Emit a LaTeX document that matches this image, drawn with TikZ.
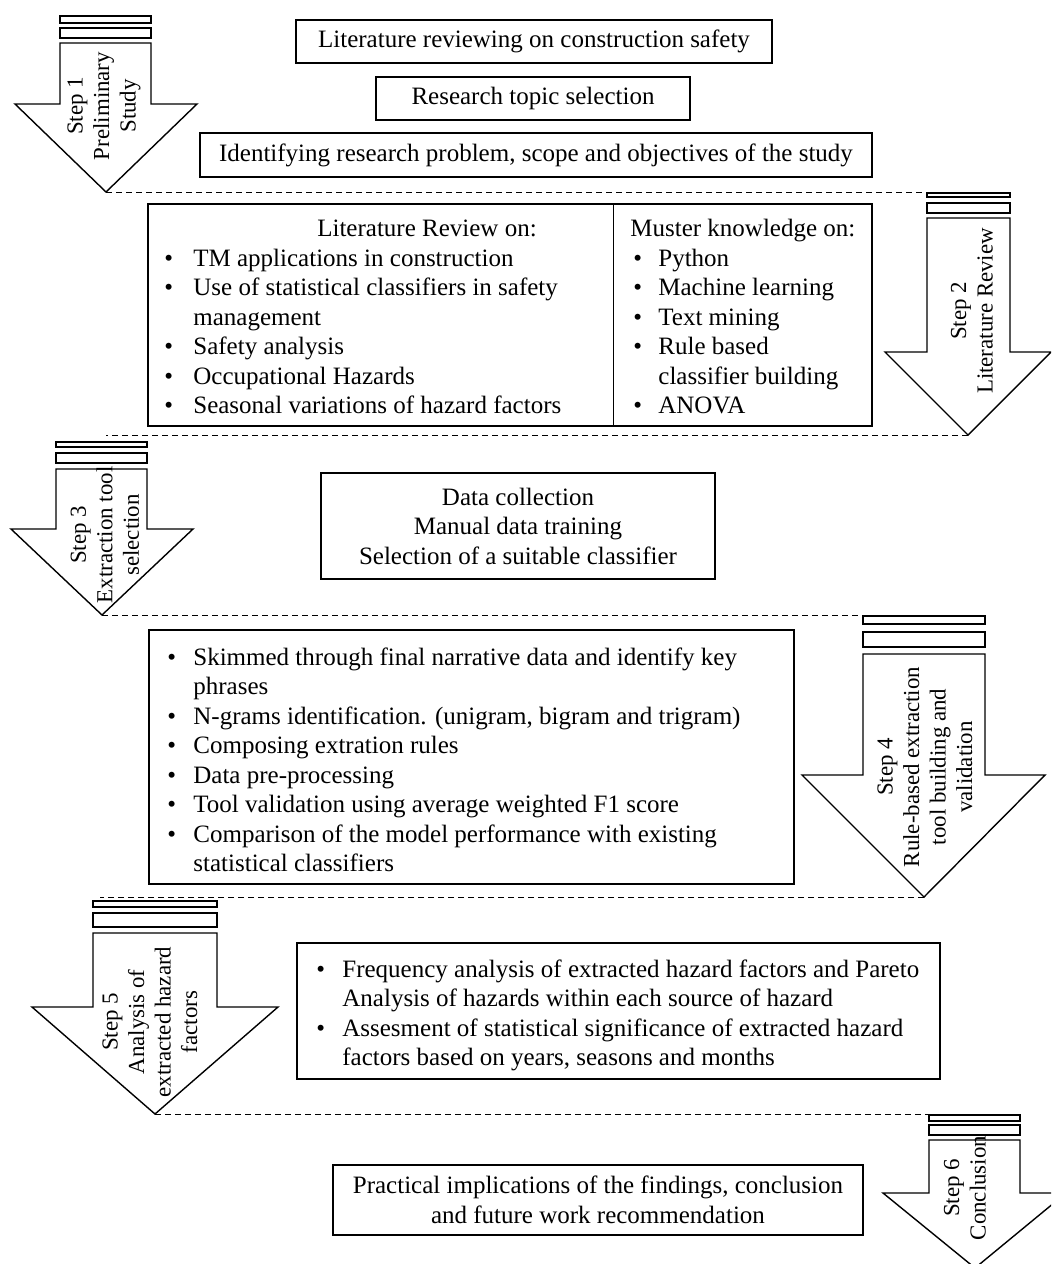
\documentclass[tikz,border=0pt]{standalone}
\usepackage{fontspec}
\setmainfont{Liberation Serif}

\tikzset{
  boxtext/.style={inner sep=0pt, font=\fontsize{12.5}{14.75}\selectfont},
  textbox/.style={boxtext, draw, line width=0.75pt, align=center},
  stepbar/.style={draw, line width=0.7pt, fill=white},
  stepshape/.style={draw, line width=0.7pt, fill=white},
  steplabel/.style={rotate=90, align=center, inner sep=0pt,
    font=\fontsize{11.45}{13.25}\selectfont},
  stepline/.style={line width=0.5pt, dash pattern=on 3pt off 2pt}
}

\begin{document}
\begin{tikzpicture}[x=0.5pt, y=-0.5pt]
  \useasboundingbox (0,0) rectangle (1051,1264);
  \clip (0,0) rectangle (1051,1264);

  % Step 1 arrow
  \draw[stepbar] (60,16) rectangle (151,23);
  \draw[stepbar] (60,28) rectangle (151,38);
  \draw[stepshape] (60,43) -- (151,43) -- (151,104) -- (197,104)
    -- (106,192) coordinate (tip1) -- (15,104) -- (60,104) -- cycle;
  \node[steplabel] (step1) at (104,106) {Step 1\\Preliminary\\Study};

  % Step 1 boxes
  \node[textbox, minimum width=238pt, minimum height=21.5pt] (litreview) at (534,41.5)
    {Literature reviewing on construction safety};
  \node[textbox, minimum width=157pt, minimum height=21.5pt] (topic) at (533,98.5)
    {Research topic selection};
  \node[textbox, minimum width=336pt, minimum height=22pt] (problem) at (536,155)
    {Identifying research problem, scope and objectives of the study};

  % Step 2 arrow
  \draw[stepbar] (927,193) rectangle (1010,197);
  \draw[stepbar] (927,203) rectangle (1010,213);
  \draw[stepshape] (927,218) -- (1010,218) -- (1010,352) -- (1051,352)
    -- (968,435) coordinate (tip2) -- (885,352) -- (927,352) -- cycle;
  \node[steplabel] (step2) at (972,311) {Step 2\\Literature Review};

  % Step 2 box
  \node[textbox, minimum width=362pt, minimum height=111pt] (review) at (510,315) {};
  \draw[line width=0.75pt] (review.north west) ++(466,0) -- ++(0,222);
  \node[boxtext, anchor=base] (reviewhead) at (427,236) {Literature Review on:};
  \node[boxtext, anchor=base west] (reviewlist) at (164,266) {%
    \begin{tabular}[t]{@{}p{14.5pt}@{}l@{}}
      \textbullet & TM applications in construction\\
      \textbullet & Use of statistical classifiers in safety\\
                  & management\\
      \textbullet & Safety analysis\\
      \textbullet & Occupational Hazards\\
      \textbullet & Seasonal variations of hazard factors
    \end{tabular}};
  \node[boxtext, anchor=base west] (musterhead) at (630,236) {Muster knowledge on:};
  \node[boxtext, anchor=base west] (musterlist) at (633,266) {%
    \begin{tabular}[t]{@{}p{12.5pt}@{}l@{}}
      \textbullet & Python\\
      \textbullet & Machine learning\\
      \textbullet & Text mining\\
      \textbullet & Rule based\\
                  & classifier building\\
      \textbullet & ANOVA
    \end{tabular}};

  % Step 3 arrow
  \draw[stepbar] (56,442) rectangle (147,447);
  \draw[stepbar] (56,453) rectangle (147,463);
  \draw[stepshape] (56,469) -- (147,469) -- (147,529) -- (193,529)
    -- (102,615) coordinate (tip3) -- (11,529) -- (56,529) -- cycle;
  \node[steplabel] (step3) at (105,535) {Step 3\\Extraction tool\\selection};

  % Step 3 box
  \node[textbox, minimum width=197pt, minimum height=53pt] (datacoll) at (518,526)
    {Data collection\\Manual data training\\Selection of a suitable classifier};

  % Step 4 arrow
  \draw[stepbar] (863,616) rectangle (985,624);
  \draw[stepbar] (863,632) rectangle (985,647);
  \draw[stepshape] (863,654) -- (985,654) -- (985,775) -- (1045,775)
    -- (924,897) coordinate (tip4) -- (802,775) -- (863,775) -- cycle;
  \node[steplabel] (step4) at (925,767)
    {Step 4\\Rule-based extraction\\tool building and\\validation};

  % Step 4 box
  \node[textbox, minimum width=322.5pt, minimum height=127pt] (rules) at (471.5,757) {};
  \node[boxtext, anchor=base west] (ruleslist) at (167,665) {%
    \begin{tabular}[t]{@{}p{13pt}@{}l@{}}
      \textbullet & Skimmed through final narrative data and identify key\\
                  & phrases\\
      \textbullet & N-grams identification. (unigram, bigram and trigram)\\
      \textbullet & Composing extration rules\\
      \textbullet & Data pre-processing\\
      \textbullet & Tool validation using average weighted F1 score\\
      \textbullet & Comparison of the model performance with existing\\
                  & statistical classifiers
    \end{tabular}};

  % Step 5 arrow
  \draw[stepbar] (93,901) rectangle (217,907);
  \draw[stepbar] (93,913) rectangle (217,927);
  \draw[stepshape] (93,933) -- (217,933) -- (217,1007) -- (278,1007)
    -- (155,1114) coordinate (tip5) -- (32,1007) -- (93,1007) -- cycle;
  \node[steplabel] (step5) at (150,1022)
    {Step 5\\Analysis of\\extracted hazard\\factors};

  % Step 5 box
  \node[textbox, minimum width=321.5pt, minimum height=68pt] (analysis) at (618.5,1011) {};
  \node[boxtext, anchor=base west] (analysislist) at (316,977) {%
    \begin{tabular}[t]{@{}p{13pt}@{}l@{}}
      \textbullet & Frequency analysis of extracted hazard factors and Pareto\\
                  & Analysis of hazards within each source of hazard\\
      \textbullet & Assesment of statistical significance of extracted hazard\\
                  & factors based on years, seasons and months
    \end{tabular}};

  % Step 6 arrow
  \draw[stepbar] (929,1115) rectangle (1020,1121);
  \draw[stepbar] (929,1125) rectangle (1020,1135);
  \draw[stepshape] (929,1140) -- (1020,1140) -- (1020,1193) -- (1066,1193)
    -- (975,1268) -- (883,1193) -- (929,1193) -- cycle;
  \node[steplabel] (step6) at (965,1188) {Step 6\\Conclusion};

  % Step 6 box
  \node[textbox, minimum width=265pt, minimum height=35pt] (implic) at (598,1200)
    {Practical implications of the findings, conclusion\\and future work recommendation};

  % dashed step borders
  \coordinate (top2) at (968,192);
  \coordinate (top3) at (106,435);
  \coordinate (top4) at (860,615);
  \coordinate (top5) at (100,897);
  \coordinate (top6) at (1020,1114);
  \draw[stepline] (tip1) -- (top2);
  \draw[stepline] (tip2) -- (top3);
  \draw[stepline] (tip3) -- (top4);
  \draw[stepline] (tip4) -- (top5);
  \draw[stepline] (tip5) -- (top6);
\end{tikzpicture}
\end{document}
